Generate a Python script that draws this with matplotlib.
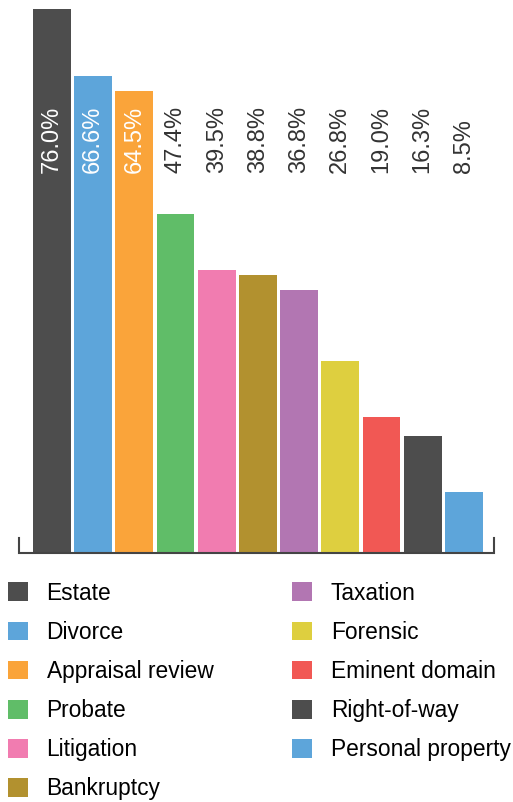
import matplotlib.pyplot as plt
from matplotlib.patches import Patch

plt.rcParams['font.family'] = ['Liberation Sans', 'DejaVu Sans']

# data
categories = ['Estate', 'Divorce', 'Appraisal review', 'Probate', 'Litigation',
              'Bankruptcy', 'Taxation', 'Forensic', 'Eminent domain',
              'Right-of-way', 'Personal property']
values = [76.0, 66.6, 64.5, 47.4, 39.5, 38.8, 36.8, 26.8, 19.0, 16.3, 8.5]
colors = ['#4d4d4d', '#5da5da', '#faa43a', '#60bd68', '#f17cb0', '#b2912f',
          '#b276b2', '#decf3f', '#f15854', '#4d4d4d', '#5da5da']

W, H = 513, 802
fig = plt.figure(figsize=(W / 100, H / 100), dpi=100)
# axes box in pixels: left 19, right 494, bottom 553, top 9
ax = fig.add_axes([19 / W, (H - 553) / H, (494 - 19) / W, (553 - 9) / H])

x = list(range(len(values)))
ax.bar(x, values, width=0.92, color=colors)
ax.set_xlim(-0.8, len(values) - 1 + 0.73)
ax.set_ylim(0, 76)

# value labels, all at the same height; white when inside the bar
label_y = 53.1
for xi, v in zip(x, values):
    c = 'white' if v > label_y + 9 else '#333333'
    ax.text(xi, label_y, f'{v:.1f}%', rotation=90, ha='center', va='bottom',
            fontsize=17, color=c)

for s in ax.spines.values():
    s.set_visible(False)
ax.set_xticks([])
ax.set_yticks([])
# bracket-style baseline
tick = 15 / (553 - 9)
ax.plot([0, 0, 1, 1], [tick, 0, 0, tick], transform=ax.transAxes,
        color='#444444', lw=1.5, clip_on=False, solid_joinstyle='miter')

handles = [Patch(facecolor=c, edgecolor='none') for c in colors]
fig.legend(handles, categories, ncol=2, loc='upper left',
           bbox_to_anchor=(3 / W, 1 - 577 / H), frameon=False,
           fontsize=16.4, handlelength=0.88, handleheight=0.88,
           handletextpad=0.83, labelspacing=0.71, columnspacing=3.45,
           borderaxespad=0, borderpad=0.2)

fig.savefig('out.png', dpi=100)
